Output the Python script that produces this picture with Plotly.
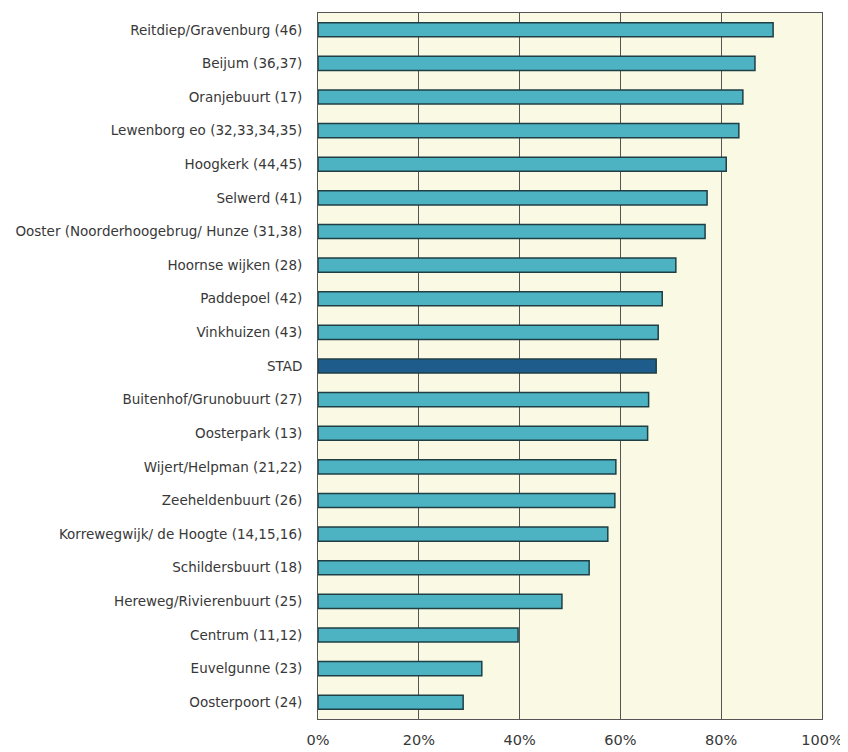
import plotly.graph_objects as go

categories = [
    "Reitdiep/Gravenburg (46)",
    "Beijum (36,37)",
    "Oranjebuurt (17)",
    "Lewenborg eo (32,33,34,35)",
    "Hoogkerk (44,45)",
    "Selwerd (41)",
    "Ooster (Noorderhoogebrug/ Hunze (31,38)",
    "Hoornse wijken (28)",
    "Paddepoel (42)",
    "Vinkhuizen (43)",
    "STAD",
    "Buitenhof/Grunobuurt (27)",
    "Oosterpark (13)",
    "Wijert/Helpman (21,22)",
    "Zeeheldenbuurt (26)",
    "Korrewegwijk/ de Hoogte (14,15,16)",
    "Schildersbuurt (18)",
    "Hereweg/Rivierenbuurt (25)",
    "Centrum (11,12)",
    "Euvelgunne (23)",
    "Oosterpoort (24)",
]
values = [90.3, 86.7, 84.3, 83.5, 81.0, 77.2, 76.8, 71.0, 68.3, 67.5, 67.1,
          65.6, 65.4, 59.1, 58.9, 57.5, 53.8, 48.4, 39.7, 32.5, 28.8]
x_ticks = [0, 20, 40, 60, 80, 100]
x_tick_labels = ["0%", "20%", "40%", "60%", "80%", "100%"]

teal = "#4DB3C3"
dark = "#1E5C8C"
colors = [dark if c == "STAD" else teal for c in categories]

fig = go.Figure(go.Bar(
    y=categories,
    x=values,
    orientation="h",
    width=0.42,
    marker=dict(color=colors, line=dict(color="#1F3F45", width=1.5)),
))

fig.update_layout(
    width=840, height=744,
    margin=dict(l=310, r=26, t=5, b=33),
    paper_bgcolor="white",
    plot_bgcolor="#FAFAE4",
    showlegend=False,
    font=dict(family="DejaVu Sans, Liberation Sans, sans-serif", color="#383838"),
    bargap=0.58,
)
fig.update_xaxes(
    range=[0, 100],
    tickvals=x_ticks, ticktext=x_tick_labels,
    showgrid=True, gridcolor="#555555", gridwidth=1,
    zeroline=False,
    showline=True, linecolor="#555555", linewidth=1, mirror=True,
    ticks="", ticklabelstandoff=8,
    tickfont=dict(size=14.5, color="#383838"),
    automargin=False,
    fixedrange=True,
)
fig.update_yaxes(
    categoryorder="array", categoryarray=categories,
    autorange="reversed",
    showgrid=False, zeroline=False,
    showline=True, linecolor="#555555", linewidth=1, mirror=True,
    ticks="", ticklabelstandoff=12,
    tickfont=dict(size=13.5, color="#383838"),
    automargin=False,
    fixedrange=True,
)

fig.write_html("out.html")
